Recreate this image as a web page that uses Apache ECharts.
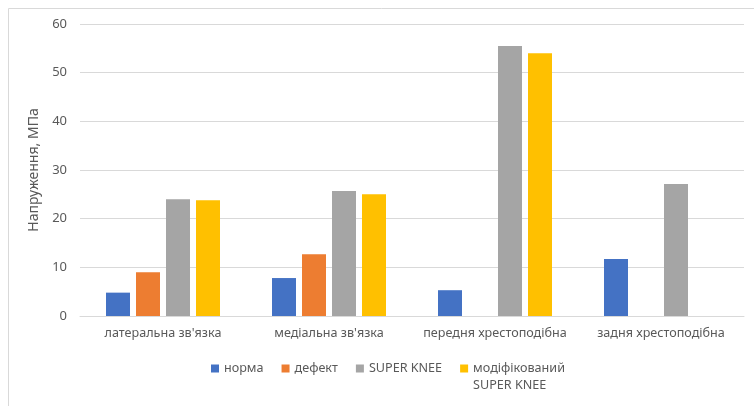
<!DOCTYPE html>
<html>
<head>
<meta charset="utf-8">
<script src="https://cdn.jsdelivr.net/npm/echarts@6/dist/echarts.min.js"></script>
<style>
html,body{margin:0;padding:0;background:#fff;}
#c{width:754px;height:406px;}
</style>
</head>
<body>
<div id="c"></div>
<script>
const categories = ["латеральна зв'язка", "медіальна зв'язка", "передня хрестоподібна", "задня хрестоподібна"];
const seriesNames = ["норма", "дефект", "SUPER KNEE", "модіфікований SUPER KNEE"];
const norma = [4.8, 7.8, 5.3, 11.7];
const defekt = [9.0, 12.7, 0, 0];
const superKnee = [24.0, 25.7, 55.5, 27.1];
const modSuperKnee = [23.8, 25.0, 54.0, 0];
const yTicks = [0, 10, 20, 30, 40, 50, 60];
const colors = ['#4472C4', '#ED7D31', '#A5A5A5', '#FFC000'];

const FONT = 'Noto Sans';
const chart = echarts.init(document.getElementById('c'));
const values = [norma, defekt, superKnee, modSuperKnee];

chart.setOption({
  animation: false,
  textStyle: { fontFamily: FONT },
  graphic: [{
    type: 'rect', left: 6, top: 6, silent: true,
    shape: { width: 800, height: 420 },
    style: { fill: 'none', stroke: '#d9d9d9', lineWidth: 1 }
  }],
  grid: { left: 80, right: 10, top: 24, bottom: 90 },
  legend: {
    left: 206, top: 338,
    itemWidth: 8, itemGap: 18, itemHeight: 8, icon: 'rect',
    textStyle: { color: '#595959', fontSize: 12.6, fontFamily: FONT, lineHeight: 17 },
    formatter: function (n) {
      return n === seriesNames[3] ? '\u00a0\nмодіфікований\nSUPER KNEE' : n;
    },
    data: seriesNames
  },
  xAxis: {
    type: 'category', data: categories,
    axisLine: { lineStyle: { color: '#d9d9d9', width: 1 } },
    axisTick: { show: false },
    axisLabel: { color: '#595959', fontSize: 12.6, margin: 11, interval: 0, fontFamily: FONT }
  },
  yAxis: {
    type: 'value', min: yTicks[0], max: yTicks[yTicks.length - 1], interval: 10,
    name: 'Напруження, МПа', nameLocation: 'middle', nameGap: 28,
    nameTextStyle: { color: '#595959', fontSize: 14, fontFamily: FONT },
    axisLine: { show: false }, axisTick: { show: false },
    axisLabel: { color: '#595959', fontSize: 13, margin: 13, fontFamily: FONT },
    splitLine: { lineStyle: { color: '#d9d9d9', width: 1 } }
  },
  series: seriesNames.map((n, i) => ({
    name: n, type: 'bar', data: values[i],
    barWidth: 24, barGap: '25%',
    itemStyle: { color: colors[i] }
  }))
});
</script>
</body>
</html>
